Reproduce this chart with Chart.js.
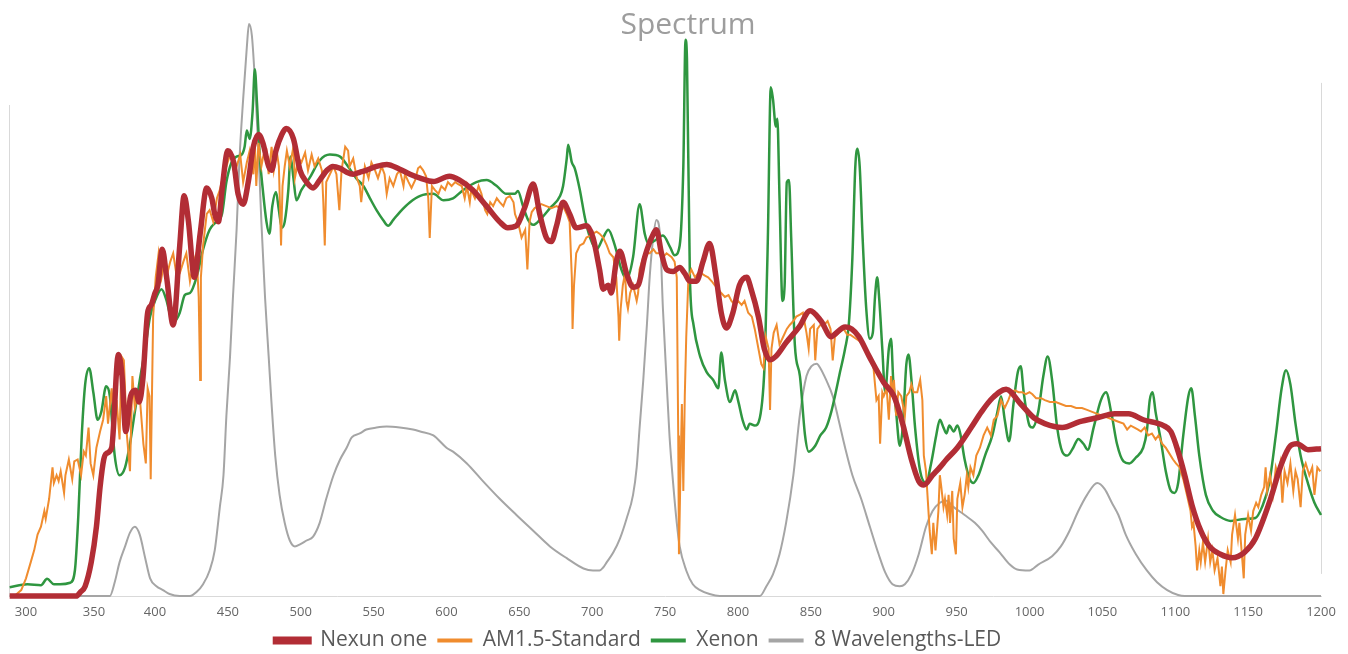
<!DOCTYPE html>
<html>
<head>
<meta charset="utf-8">
<title>Spectrum</title>
<script src="https://cdn.jsdelivr.net/npm/chart.js@4.4.1/dist/chart.umd.min.js"></script>
<style>
  html, body { margin: 0; padding: 0; background: #fff; }
  #wrap { width: 1348px; height: 654px; }
</style>
</head>
<body>
<div id="wrap"><canvas id="spectrumChart"></canvas></div>
<script>
// wavelength in nm, intensity in relative units (top of the left edge line = 100)
const nexunNm = [
  288, 300, 318, 337, 340, 343.5, 348, 352, 355, 358,
  360, 364.5, 370, 373, 376, 380, 384, 387, 390, 394,
  397, 400, 402, 405, 408, 412.5, 417, 420, 423, 427,
  431, 435.5, 439, 441, 443.5, 446, 450, 454, 457, 460.5,
  464, 467.5, 471, 474, 478, 480, 483, 487, 490, 495,
  499.5, 504, 508.5, 513, 518, 522, 527, 531.5, 536, 540.5,
  545, 552, 559, 568, 575, 582, 591, 602, 609, 618,
  627.5, 636.5, 642, 648, 654, 659.5, 664, 668.5, 672, 675.5,
  680, 684.5, 689, 696, 700.5, 705, 707.5, 711, 713, 716.5,
  719, 723.5, 728, 731.5, 736, 742, 744, 747.5, 751, 755.5,
  760, 763.5, 767, 771.5, 776, 780.5, 785, 788.5, 792, 796.5,
  801, 806, 809, 814, 818, 822, 826, 833, 842, 849.5,
  857, 864, 866, 873.5, 878, 883, 890, 900, 907, 913,
  919, 924, 927.5, 933.5, 938.5, 943, 950.5, 960, 967, 974.5,
  984, 994, 1003, 1010.5, 1022.5, 1034.5, 1046.5, 1058.5, 1068, 1078,
  1092, 1097, 1102, 1106.5, 1111.5, 1117.5, 1123.5, 1131, 1139, 1147.5,
  1155, 1164.5, 1173, 1179, 1183.5, 1191, 1200
];
const nexunVal = [
  0, 0, 0, 0, 0.8, 2, 6.9, 14.1, 22.2, 27.8,
  29, 30.2, 49.2, 44.8, 33.5, 40.7, 41.9, 39.5, 44, 57.7,
  59.3, 61.7, 63.3, 70.6, 64.9, 55.2, 71.4, 81.5, 76.2, 64.9,
  73.8, 83.1, 81, 77.8, 76.2, 82.7, 90.7, 88.3, 81.9, 79.8,
  84.3, 91.5, 94, 92.3, 87.5, 86.7, 90.7, 94, 95.2, 93.1,
  86.7, 84.3, 83.1, 84.7, 86.7, 87.5, 87.1, 86.3, 85.9, 86.3,
  86.7, 87.5, 87.9, 86.9, 85.9, 85.1, 84.4, 85.5, 84.7, 82.7,
  79.4, 76.2, 75, 75.4, 79.4, 83.9, 77.8, 73, 72.2, 75.4,
  80.2, 77.8, 75, 75.4, 73, 66.5, 62.5, 63.3, 61.7, 68.1,
  70.2, 65.7, 62.9, 63.3, 69, 73.8, 74.6, 69.8, 66.5, 66.1,
  66.9, 65.7, 64.1, 64.1, 68.1, 71.8, 64.9, 57.7, 54.6, 57.7,
  63.3, 64.9, 62.5, 56.9, 50.4, 48.1, 48.8, 51.6, 54.8, 58.1,
  56, 52.8, 53.2, 54.8, 54.4, 52.8, 48.8, 43.5, 40.7, 35.1,
  27.8, 23.4, 22.6, 24.6, 26.2, 27.8, 30.2, 34.3, 37.5, 40.3,
  42.1, 39.1, 36.3, 35.1, 34.3, 35.5, 36.3, 37.1, 37.1, 35.9,
  34.7, 33.5, 29.4, 24.6, 18.5, 13.3, 10.1, 8.5, 7.8, 8.9,
  11.7, 19, 27, 30.6, 31, 29.8, 30
];

const am15Nm = [
  291.5, 296.5, 300, 303.5, 306, 308.5, 311, 313.5, 314.5, 317,
  319.5, 320.5, 322.5, 324, 325.5, 328, 329, 331.5, 334, 335.5,
  338, 340.5, 342.5, 344, 346, 347.5, 349.5, 352, 355, 357.5,
  360, 361.5, 364.5, 366.5, 368.5, 371, 372.5, 374.5, 377, 379.5,
  381.5, 383.5, 385.5, 387.5, 390.5, 392.5, 394, 395.5, 396.5, 398.5,
  400.5, 402.5, 404.5, 407, 408.5, 410.5, 412.5, 415, 417, 419.5,
  421.5, 424, 426.5, 428.5, 430, 431, 431.5, 433, 435.5, 437.5,
  440, 442.5, 444.5, 447, 449, 451.5, 453.5, 456, 458.5, 460.5,
  463, 465, 467.5, 468.5, 469.5, 471, 473, 474.5, 476.5, 478,
  480, 481.5, 483.5, 485, 486.5, 487.5, 489, 490.5, 492.5, 495,
  496, 498.5, 500.5, 503, 505, 507.5, 509.5, 512, 514.5, 515.5,
  516.5, 517.5, 520, 522.5, 524.5, 526.5, 528, 530.5, 532.5, 533.5,
  536, 538.5, 540.5, 541.5, 544, 546.5, 548.5, 551, 553, 555.5,
  557.5, 559, 561, 563.5, 566, 568, 570.5, 571.5, 574, 576,
  578.5, 580.5, 582, 584, 586, 587.5, 588.5, 590, 592, 594.5,
  596.5, 599, 601, 603.5, 606, 608, 610.5, 612.5, 614, 616,
  617, 619.5, 622, 624, 626.5, 628, 630, 632, 634.5, 636.5,
  639, 641, 643.5, 646, 647, 649, 651.5, 654, 655.5, 657,
  658.5, 660.5, 663, 665, 668.5, 672, 675.5, 678, 680, 682.5,
  684.5, 686, 686.5, 687.5, 689, 691.5, 694, 696, 698.5, 700.5,
  703, 705, 707.5, 710, 712, 714.5, 716.5, 718, 718.5, 719.5,
  721, 722.5, 723.5, 724.5, 726, 728, 730.5, 731.5, 732.5, 735,
  737, 739.5, 742, 744, 746.5, 748.5, 751, 754.5, 756.5, 758,
  759, 759.5, 760.5, 761.5, 762.5, 763.5, 764.5, 766, 768, 770.5,
  772.5, 775, 777, 779.5, 782, 784, 786.5, 788.5, 791, 793.5,
  795.5, 798, 800, 802.5, 804.5, 807, 809.5, 811.5, 814, 816,
  817.5, 819, 821, 822, 823, 824.5, 826.5, 828.5, 831, 833.5,
  835.5, 838, 840, 842.5, 844.5, 847, 848.5, 849.5, 852, 853,
  854.5, 856.5, 859, 861.5, 863.5, 865, 866.5, 869, 872.5, 875,
  877, 881, 883, 885.5, 888, 890.5, 893, 894, 895, 896.5,
  897.5, 899, 900, 902, 903.5, 905, 906, 907, 908.5, 910,
  912, 914.5, 915.5, 917.5, 919, 920.5, 923, 925, 926.5, 927.5,
  929, 930, 931.5, 933, 934, 935.5, 937.5, 938.5, 939.5, 941,
  942, 943.5, 944.5, 945.5, 947, 948, 949.5, 950.5, 952.5, 954,
  955.5, 957, 958, 959.5, 961.5, 963.5, 966, 968.5, 971, 973.5,
  975.5, 978, 980.5, 983, 985.5, 987.5, 990, 992.5, 995, 997.5,
  1000, 1002, 1004.5, 1008, 1010.5, 1014, 1018, 1021.5, 1025, 1028.5,
  1032, 1036, 1039.5, 1043, 1046.5, 1050, 1054, 1057.5, 1061, 1064.5,
  1067, 1069.5, 1072, 1074.5, 1076.5, 1079, 1081.5, 1084, 1086.5, 1088.5,
  1091, 1093.5, 1096, 1098.5, 1100.5, 1103, 1105.5, 1108, 1110.5, 1111.5,
  1112.5, 1114, 1115, 1116.5, 1117.5, 1119, 1120.5, 1122.5, 1124, 1125.5,
  1127, 1129, 1131, 1132, 1133, 1134.5, 1136, 1138, 1139, 1141,
  1143, 1144, 1145.5, 1147, 1148, 1150, 1152, 1153.5, 1155.5, 1157,
  1159, 1161, 1162, 1163, 1165, 1167, 1169, 1170.5, 1172, 1173.5,
  1175, 1177, 1179, 1181, 1182.5, 1184, 1186, 1187.5, 1189.5, 1192,
  1194, 1195.5, 1197.5, 1199.5
];
const am15Val = [
  0, 1.2, 3.6, 6.9, 9.3, 12.5, 14.1, 17.3, 15.7, 19.8,
  26.2, 23, 24.6, 23.4, 25.4, 21, 24.6, 27.8, 23.8, 27.4,
  27.8, 24.6, 29.4, 28.6, 34.3, 27, 24.6, 30.2, 33.5, 35.9,
  40.7, 35.1, 42.3, 34.3, 39.9, 31.9, 48.8, 48, 32.7, 25.4,
  44.8, 38.3, 40.7, 40.7, 31, 27, 42.3, 40.7, 23.8, 56.9,
  64.9, 69.8, 64.9, 69, 65.7, 68.1, 69.8, 64.9, 65.7, 68.1,
  69.8, 64.1, 68.1, 69.8, 60.9, 44, 64.9, 71.4, 77.8, 78.6,
  76.2, 81, 82.7, 85.9, 87.5, 89.9, 89.1, 87.5, 89.9, 84.3,
  88.3, 90.7, 85.9, 92.3, 83.5, 92.3, 87.5, 89.9, 90.7, 85.9,
  91.5, 86.7, 90.7, 87.5, 71.4, 83.5, 87.5, 90.7, 87.5, 91.5,
  85.1, 89.1, 88.3, 90.3, 86.7, 89.9, 87.5, 89.1, 86.7, 80.2,
  71.4, 84.3, 85.9, 87.5, 85.9, 78.6, 86.7, 91.5, 90.7, 87.5,
  89.1, 85.1, 83.5, 80.2, 87.5, 85.1, 88.3, 86.7, 85.1, 87.5,
  85.9, 81.9, 85.1, 83.5, 85.9, 86.7, 83.5, 85.9, 84.3, 83.1,
  84.7, 87.1, 87.5, 86.7, 85.5, 81, 72.9, 83.5, 82.7, 81.9,
  83.5, 82.7, 84.3, 83.5, 84.3, 83.9, 83.5, 81, 83.5, 80.2,
  82.7, 81, 83.5, 81.9, 78.6, 77.8, 80.2, 79.4, 81, 80.2,
  79.4, 81, 81.5, 80.2, 77.8, 76.2, 73, 74.6, 66.5, 76.2,
  78.2, 79, 79.4, 79.8, 79.4, 79, 79.4, 79, 79.4, 77.8,
  76.2, 64.9, 54.4, 63.3, 69.8, 71.4, 71.8, 73, 73.4, 73.8,
  74.2, 73.8, 73, 71.4, 69.8, 69, 64.9, 56.9, 52, 58.5,
  63.3, 65.7, 60.1, 58.5, 61.7, 63.3, 60.1, 61.7, 66.5, 69,
  69.8, 69.8, 70.6, 69.8, 69.8, 69, 69.8, 69, 68.1, 64.9,
  32.7, 8.5, 24.6, 39.1, 21.4, 40.7, 52.8, 64.9, 66.5, 64.9,
  65.7, 65.7, 65.3, 64.9, 64.1, 63.3, 62.5, 61.7, 60.9, 61.3,
  60.1, 59.3, 60.1, 59.3, 60.1, 57.7, 56.9, 54.4, 50.4, 47.2,
  46.4, 52.8, 50.4, 37.9, 50.4, 53.6, 55.2, 51.2, 52.8, 54.4,
  55.2, 56, 56.9, 57.3, 57.7, 53.6, 50.4, 54.4, 55.2, 48,
  54.4, 55.2, 55.2, 56, 54.4, 48, 52.8, 53.6, 54.4, 53.2,
  53.2, 52.4, 52, 51.2, 50.4, 48.8, 46.4, 43.1, 39.9, 40.7,
  31, 41.5, 40.7, 42.3, 35.9, 44.8, 40.7, 44, 36.7, 41.5,
  40.7, 36.7, 40.7, 41.5, 43.1, 41.5, 41.5, 44, 39.9, 28.6,
  25.4, 20.6, 13.3, 8.5, 14.9, 9.3, 17.3, 24.6, 22.2, 18.1,
  19.8, 16.5, 20.6, 14.9, 21.4, 11.7, 8.5, 19.8, 23, 18.1,
  20.6, 24.6, 22.2, 26.2, 24.6, 28.6, 30.2, 32.7, 34.3, 32.7,
  35.9, 36.7, 39.9, 38.3, 39.9, 41.5, 41.9, 41.5, 41.5, 41.1,
  41.5, 41.1, 40.3, 40.3, 39.9, 39.5, 39.5, 39.1, 38.7, 38.7,
  38.3, 38.3, 37.9, 37.5, 37.1, 36.7, 36.3, 35.9, 35.5, 35.1,
  33.9, 34.7, 34.3, 33.9, 33.5, 34.3, 32.7, 33.1, 31.9, 32.7,
  31, 30.2, 29, 27.8, 27, 26.2, 23.8, 20.6, 17.3, 14.1,
  14.9, 10.1, 5.2, 9.3, 6.9, 10.9, 6.9, 11.7, 6.9, 9.3,
  5.2, 7.7, 2, 6, 0.4, 5.2, 9.3, 6.9, 12.5, 16.5,
  11.7, 14.9, 9.3, 3.6, 12.5, 16.5, 13.3, 17.3, 19, 18.1,
  20.6, 22.2, 26.2, 21.4, 24.6, 20.6, 26.2, 24.6, 27, 19,
  25.4, 23, 27, 21.4, 25.4, 23.8, 18.1, 25.4, 27, 24.6,
  26.2, 20.6, 26.2, 25.4
];

const xenonNm = [
  288, 301, 311, 315.5, 320.5, 325, 332.5, 336, 338.5, 341,
  343.5, 346.5, 349.5, 353, 356, 360, 363, 367, 371, 375.5,
  379.5, 383.5, 387.5, 392, 396, 400, 404.5, 408, 410, 413.5,
  417, 420.5, 424, 428.5, 433, 437.5, 442, 446, 449, 452.5,
  456, 459.5, 461.5, 463, 465, 467, 468.5, 470, 472, 474,
  476.5, 478.5, 480.5, 483, 485, 487, 489, 491.5, 493, 495,
  497, 500.5, 506, 513, 520, 527, 531.5, 538, 543, 547.5,
  552, 556.5, 560, 563.5, 568, 575, 582, 591, 598, 604.5,
  611.5, 620.5, 627.5, 634.5, 641, 647, 649, 652.5, 656, 659.5,
  664, 671, 678, 680, 682.5, 683.5, 686, 688, 691.5, 695,
  698.5, 703, 707.5, 711, 715.5, 720, 723.5, 728, 732.5, 736,
  738.5, 742, 748.5, 753.5, 756.5, 760, 762.5, 764, 765, 767,
  769.5, 774, 778.5, 783, 786.5, 788.5, 791, 794.5, 798, 800,
  803.5, 806, 808, 811.5, 815, 818.5, 820.5, 822.5, 824, 826,
  827, 828.5, 830.5, 832, 833.5, 835, 836.5, 839, 842.5, 846,
  848.5, 853, 856.5, 860.5, 864, 866.5, 870, 873.5, 876, 878.5,
  880.5, 882, 883.5, 885.5, 888, 890.5, 892.5, 894, 895.5, 897,
  899, 901, 903.5, 905, 906.5, 908.5, 911, 913, 915.5, 917,
  919, 921.5, 925, 929, 932.5, 936, 938.5, 941, 943, 945,
  948, 950.5, 952.5, 955.5, 959, 961.5, 965, 969.5, 974.5, 978,
  980.5, 983, 986, 989, 992, 994, 996, 1000, 1002, 1006,
  1009.5, 1012.5, 1015.5, 1019, 1022.5, 1026, 1030, 1033.5, 1037, 1040,
  1044, 1049, 1052.5, 1056.5, 1060, 1064.5, 1068.5, 1073, 1078, 1080.5,
  1082.5, 1084.5, 1086.5, 1090, 1093.5, 1097, 1099.5, 1102, 1105.5, 1109,
  1111, 1113.5, 1116.5, 1121, 1126, 1131, 1138, 1147.5, 1155, 1159.5,
  1164.5, 1169, 1173, 1176, 1179, 1182.5, 1186, 1191, 1195.5, 1200
];
const xenonVal = [
  1.8, 2.4, 2.2, 3.5, 2.4, 2.4, 2.7, 5.3, 16.5, 32.7,
  43.1, 46.4, 41.5, 35.9, 37.5, 42.7, 40.7, 28.6, 24.6, 26.2,
  31, 37.5, 43.9, 50.4, 56.9, 60.1, 62.5, 60.1, 57.7, 56,
  57.7, 61.3, 61.7, 64.9, 70.6, 74.6, 76.2, 77.8, 84.3, 88.3,
  89.5, 89.9, 91.5, 94.8, 93.1, 98.8, 107.3, 100.4, 89.1, 82.7,
  76.2, 73.8, 79.4, 82.3, 78.6, 75, 76.2, 82.7, 89.5, 85.1,
  80.6, 82.7, 85.1, 88.7, 89.9, 89.5, 87.9, 85.1, 83.5, 81,
  78.6, 76.6, 75.4, 76.6, 78.2, 80.2, 81.5, 81.9, 80.6, 81,
  82.7, 84.3, 84.7, 83.5, 81.9, 81.9, 82.5, 79.4, 76.6, 75.6,
  76.6, 79, 81.5, 83.5, 89.1, 91.9, 88.3, 87.1, 82.7, 77,
  73, 70.6, 73, 74.6, 71.4, 66.5, 64.5, 69, 79.8, 73.8,
  71.8, 72.2, 73.4, 71, 69.4, 71.4, 87.5, 113.3, 109.3, 64.9,
  55.2, 48.8, 45.6, 44, 42.3, 49.6, 44, 39.5, 41.9, 39.9,
  35.5, 33.9, 35.1, 34.7, 36.3, 48.8, 73, 103.6, 101.2, 95.6,
  97.2, 81, 60.1, 63.3, 84.3, 84.7, 73, 51.2, 44.8, 32.7,
  29.4, 30.6, 32.7, 34.3, 37.5, 40.7, 45.6, 50.4, 55.2, 69,
  87.5, 91.1, 87.5, 73, 58.5, 52.4, 53.6, 60.9, 64.9, 60.1,
  50.4, 41.5, 50.4, 52.4, 44, 37.5, 30.6, 34.3, 47.2, 49.2,
  44, 34.3, 25.4, 23, 27, 32.7, 35.9, 34.3, 33.1, 34.7,
  33.5, 34.7, 33.1, 27.8, 23.8, 23, 24.6, 28.6, 32.7, 37.5,
  40.7, 35.9, 31.5, 39.1, 45.6, 46.8, 41.5, 34.7, 34.3, 37.5,
  44.8, 48.8, 44, 34.3, 29.4, 28.6, 30.2, 32, 31, 29.8,
  34.3, 39.9, 41.5, 36.7, 31, 27.4, 27, 28.2, 30.2, 33.5,
  39.9, 41.5, 37.5, 31.9, 25.4, 21.4, 21, 23, 32.7, 40.7,
  42.3, 36.7, 28.6, 20.6, 17.3, 16.1, 15.3, 15.7, 15.9, 18.1,
  23, 32.7, 42.3, 46, 43.1, 35.1, 28.6, 23, 19, 16.5
];

const ledNm = [
  288, 363, 367, 371, 375.5, 379.5, 383.5, 387.5, 392, 396,
  401, 405.5, 410, 417, 424, 428.5, 433, 437.5, 441, 444.5,
  447, 449, 451.5, 453.5, 456, 458, 460.5, 463, 464.5, 466.5,
  468.5, 471, 473, 475.5, 478, 480, 482.5, 485.5, 489, 492.5,
  496, 499.5, 504, 508.5, 513, 517.5, 522.5, 527, 531.5, 535,
  540.5, 545, 552, 559, 568, 577, 582, 591, 600, 604.5,
  614, 625, 636.5, 648, 659.5, 671, 682.5, 694, 700.5, 705,
  707.5, 710, 714.5, 719, 723.5, 728, 730.5, 732.5, 735, 737.5,
  739.5, 742, 744, 746.5, 748.5, 751, 753, 755.5, 758, 760,
  764.5, 769, 774, 780.5, 787.5, 815, 819.5, 824, 828.5, 833,
  838, 842.5, 847, 850.5, 854, 856.5, 860.5, 865, 869, 873.5,
  878.5, 884.5, 890.5, 896.5, 901, 906, 911, 914.5, 919, 924,
  929, 933.5, 938.5, 943, 948, 955.5, 962.5, 967.5, 973.5, 979.5,
  986.5, 991.5, 1000, 1006, 1015.5, 1021.5, 1027.5, 1033.5, 1039.5, 1046.5,
  1051.5, 1056.5, 1061, 1066, 1073, 1080.5, 1087.5, 1094.5, 1102, 1106.5,
  1200
];
const ledVal = [
  0, 0, 2.8, 6.9, 10.1, 12.9, 14.1, 12.5, 7.7, 3.6,
  2, 1.2, 0.4, 0, 0, 0.8, 2.4, 5.2, 9.3, 18.1,
  24.6, 36.7, 48.8, 60.9, 74.6, 89.1, 101.2, 111.7, 116.5, 114.1,
  105.2, 90.7, 76.2, 60.9, 48.8, 39.1, 28.6, 20.6, 14.9, 11.3,
  10.1, 10.5, 11.3, 12.1, 14.9, 19.8, 24.6, 27.8, 30.2, 32.3,
  33.1, 33.9, 34.3, 34.5, 34.3, 33.9, 33.5, 32.7, 30.2, 29.4,
  27, 23.4, 19.8, 16.5, 13.3, 10.1, 7.7, 5.6, 5.2, 5.2,
  5.8, 6.9, 8.9, 11.7, 15.7, 20.6, 26.2, 34.3, 43.9, 55.2,
  65.3, 73.4, 76.6, 73.4, 58.5, 44, 32.7, 23, 14.9, 10.1,
  5.2, 2.4, 1.2, 0.4, 0, 0, 2, 4.4, 8.5, 14.9,
  24.6, 37, 44.8, 46.8, 47.3, 46.4, 44, 40.7, 35.9, 30.2,
  24.6, 19.8, 14.1, 8.5, 4.8, 2.4, 2, 2.4, 4.4, 8.5,
  14.1, 17.3, 19, 19.4, 18.1, 16.5, 14.9, 13.3, 10.9, 8.9,
  6.4, 5.4, 5.2, 6.4, 8.1, 10.1, 13.3, 17.3, 20.6, 23,
  21.8, 19, 16.5, 12.5, 8.5, 5.2, 2.8, 1.2, 0.2, 0,
  0
];

const tickNm = [300, 350, 400, 450, 500, 550, 600, 650, 700, 750,
                800, 850, 900, 950, 1000, 1050, 1100, 1150, 1200];
const firstNm = 287.5;

// the right-hand frame line is shorter than the left one
const rightLineTop = 104.5;
const rightLineBottom = 4.5;

// title and legend are not centred on the plot in the original
const titleShift = 23;
const legendShift = -27;

// The original is a category axis: below 400 nm the samples sit closer
// together, so 300-400 nm takes less room on the axis than later ranges.
function axisPos(nm) {
  if (nm >= 400) return nm;
  if (nm >= 350) return 400 - (400 - nm) * 0.837;
  return 358.16 - (350 - nm) * 0.933;
}

function toPoints(nms, vals) {
  return nms.map((nm, i) => ({ x: axisPos(nm), y: vals[i] }));
}

const rightEdgeLine = {
  id: 'rightEdgeLine',
  beforeDatasetsDraw(chart) {
    const { ctx, scales: { x, y } } = chart;
    const px = Math.round(x.getPixelForValue(x.max)) + 0.5;
    ctx.save();
    ctx.strokeStyle = '#d9d9d9';
    ctx.lineWidth = 1;
    ctx.beginPath();
    ctx.moveTo(px, y.getPixelForValue(rightLineTop));
    ctx.lineTo(px, y.getPixelForValue(rightLineBottom));
    ctx.stroke();
    ctx.restore();
  }
};

// nudge title and legend sideways after layout
const offsetBlocks = {
  id: 'offsetBlocks',
  afterLayout(chart) {
    if (chart.titleBlock) {
      chart.titleBlock.left += titleShift;
      chart.titleBlock.right += titleShift;
    }
    if (chart.legend) {
      chart.legend.left += legendShift;
      chart.legend.right += legendShift;
    }
  }
};

const ctx = document.getElementById('spectrumChart').getContext('2d');
new Chart(ctx, {
  type: 'line',
  data: {
    datasets: [
      {
        label: 'Nexun one',
        data: toPoints(nexunNm, nexunVal),
        borderColor: '#b22d35',
        borderWidth: 5.5,
        cubicInterpolationMode: 'monotone',
        pointRadius: 0,
        clip: false
      },
      {
        label: 'AM1.5-Standard',
        data: toPoints(am15Nm, am15Val),
        borderColor: '#f08c2e',
        borderWidth: 2,
        tension: 0,
        pointRadius: 0,
        clip: false
      },
      {
        label: 'Xenon',
        data: toPoints(xenonNm, xenonVal),
        borderColor: '#2f9640',
        borderWidth: 2.5,
        cubicInterpolationMode: 'monotone',
        pointRadius: 0,
        clip: false
      },
      {
        label: '8 Wavelengths-LED',
        data: toPoints(ledNm, ledVal),
        borderColor: '#a5a5a5',
        borderWidth: 2,
        cubicInterpolationMode: 'monotone',
        pointRadius: 0,
        clip: false
      }
    ]
  },
  options: {
    responsive: true,
    maintainAspectRatio: false,
    animation: false,
    layout: { padding: { left: 9, right: 27, top: 0, bottom: -7 } },
    scales: {
      x: {
        type: 'linear',
        min: axisPos(firstNm),
        max: 1200,
        grid: { display: false, drawTicks: false },
        border: { color: '#d9d9d9' },
        afterBuildTicks: (axis) => {
          axis.ticks = tickNm.map(nm => ({ value: axisPos(nm) }));
        },
        afterFit: (axis) => {
          axis.height = 24;
        },
        ticks: {
          autoSkip: false,
          maxRotation: 0,
          padding: 8,
          color: '#666',
          font: { family: 'Open Sans', size: 13 },
          callback: (value, index) => tickNm[index]
        }
      },
      y: {
        min: 0,
        max: 100,
        grid: { display: false, drawTicks: false },
        border: { color: '#d9d9d9' },
        ticks: { display: false },
        afterFit: (axis) => {
          axis.width = 0;
        }
      }
    },
    plugins: {
      title: {
        display: true,
        text: 'Spectrum',
        color: '#9d9d9d',
        font: { family: 'Open Sans', size: 30, weight: 'normal' },
        padding: { top: 7, bottom: 62 }
      },
      legend: {
        position: 'bottom',
        labels: {
          boxWidth: 35,
          boxHeight: 4,
          padding: 10,
          color: '#595959',
          font: { family: 'Open Sans', size: 21 },
          generateLabels(chart) {
            const items = Chart.defaults.plugins.legend.labels.generateLabels(chart);
            items.forEach((item, i) => {
              item.fillStyle = item.strokeStyle;
              item.lineWidth = i === 0 ? 4 : 0;
            });
            return items;
          }
        }
      },
      tooltip: { enabled: false }
    }
  },
  plugins: [rightEdgeLine, offsetBlocks]
});
</script>
</body>
</html>
